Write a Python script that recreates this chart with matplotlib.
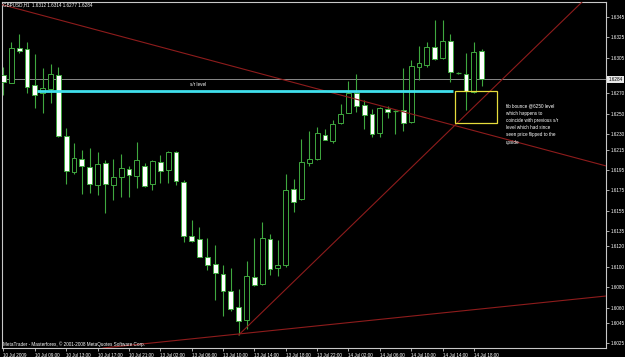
import matplotlib
matplotlib.use("Agg")
import matplotlib.pyplot as plt
from matplotlib.patches import Rectangle
import matplotlib.transforms as mtransforms

plt.rcParams['font.family'] = ['Liberation Sans', 'DejaVu Sans']

# ---------------- data (GBPUSD H1) ----------------
opens = [1.6288, 1.6280, 1.6315, 1.6314, 1.6278, 1.6270, 1.6274, 1.6288, 1.6228, 1.6193,
         1.6206, 1.6198, 1.6180, 1.6202, 1.6180, 1.6188, 1.6196, 1.6189, 1.6199, 1.6181,
         1.6203, 1.6195, 1.6213, 1.6183, 1.6130, 1.6127, 1.6110, 1.6103, 1.6093, 1.6076,
         1.6061, 1.6048, 1.6090, 1.6083, 1.6127, 1.6099, 1.6102, 1.6176, 1.6166, 1.6202,
         1.6206, 1.6229, 1.6223, 1.6241, 1.6251, 1.6270, 1.6259, 1.6250, 1.6231, 1.6255,
         1.6253, 1.6254, 1.6242, 1.6296, 1.6298, 1.6316, 1.6305, 1.6321, 1.6290, 1.6289,
         1.6271, 1.6312]
highs = [1.6296, 1.6320, 1.6328, 1.6320, 1.6309, 1.6295, 1.6299, 1.6296, 1.6236, 1.6221,
         1.6215, 1.6216, 1.6213, 1.6205, 1.6206, 1.6211, 1.6199, 1.6222, 1.6202, 1.6205,
         1.6210, 1.6214, 1.6214, 1.6185, 1.6146, 1.6139, 1.6128, 1.6121, 1.6102, 1.6099,
         1.6078, 1.6106, 1.6128, 1.6144, 1.6132, 1.6126, 1.6191, 1.6186, 1.6225, 1.6233,
         1.6237, 1.6235, 1.6244, 1.6260, 1.6282, 1.6289, 1.6264, 1.6255, 1.6257, 1.6258,
         1.6254, 1.6295, 1.6303, 1.6317, 1.6320, 1.6342, 1.6342, 1.6328, 1.6291, 1.6310,
         1.6320, 1.6314]
lows = [1.6268, 1.6280, 1.6310, 1.6270, 1.6256, 1.6251, 1.6261, 1.6227, 1.6181, 1.6191,
        1.6171, 1.6172, 1.6170, 1.6153, 1.6165, 1.6168, 1.6168, 1.6177, 1.6178, 1.6175,
        1.6182, 1.6182, 1.6180, 1.6124, 1.6124, 1.6110, 1.6097, 1.6067, 1.6052, 1.6057,
        1.6033, 1.6039, 1.6081, 1.6082, 1.6092, 1.6091, 1.6100, 1.6154, 1.6165, 1.6199,
        1.6205, 1.6224, 1.6221, 1.6240, 1.6251, 1.6252, 1.6235, 1.6227, 1.6227, 1.6246,
        1.6230, 1.6233, 1.6241, 1.6283, 1.6296, 1.6303, 1.6304, 1.6281, 1.6289, 1.6254,
        1.6270, 1.6277]
closes = [1.6281, 1.6315, 1.6312, 1.6276, 1.6268, 1.6275, 1.6289, 1.6228, 1.6194, 1.6207,
          1.6199, 1.6181, 1.6201, 1.6181, 1.6188, 1.6197, 1.6190, 1.6205, 1.6179, 1.6204,
          1.6194, 1.6213, 1.6184, 1.6130, 1.6125, 1.6110, 1.6102, 1.6094, 1.6076, 1.6059,
          1.6047, 1.6091, 1.6082, 1.6128, 1.6098, 1.6102, 1.6175, 1.6164, 1.6203, 1.6206,
          1.6231, 1.6224, 1.6240, 1.6250, 1.6270, 1.6258, 1.6249, 1.6230, 1.6256, 1.6252,
          1.6253, 1.6241, 1.6297, 1.6300, 1.6316, 1.6304, 1.6321, 1.6291, 1.6290, 1.6272,
          1.6311, 1.6284]

date_labels = ["10 Jul 2009", "10 Jul 09:00", "10 Jul 13:00", "10 Jul 17:00", "10 Jul 21:00",
               "13 Jul 02:00", "13 Jul 06:00", "13 Jul 10:00", "13 Jul 14:00", "13 Jul 18:00",
               "13 Jul 22:00", "14 Jul 02:00", "14 Jul 06:00", "14 Jul 10:00", "14 Jul 14:00",
               "14 Jul 18:00"]
date_label_bars = list(range(0, 61, 4))
price_ticks = [1.6345, 1.6325, 1.6305, 1.6270, 1.6250, 1.6230, 1.6215, 1.6195, 1.6175,
               1.6155, 1.6135, 1.6120, 1.6100, 1.6080, 1.6060, 1.6045, 1.6025]
current_price = 1.6284

# analyst drawings (bar index, price)
downtrend = [(0.45, 1.63558), (76.85, 1.61989)]
uptrend = [(30.0, 1.60331), (73.79, 1.63597)]
lower_trend = [(0.0, 1.60102), (76.85, 1.60713)]
sr_level = 1.6272
sr_span = [4.27, 57.3]
box_bars = [57.59, 62.95]
box_prices = [1.62410, 1.62725]

title = "GBPUSD,H1  1.6312 1.6314 1.6277 1.6284"
note = ("fib bounce @6250 level\nwhich happens to\ncoincide with previous s/r\n"
        "level which had since\nseen price flipped to the\nupside")
copyright_txt = "MetaTrader - Masterforex, \u00a9 2001-2008 MetaQuotes Software Corp."

# ---------------- styling ----------------
W, H = 625, 357
GREEN = '#3fa83f'
RED = '#8e1c1c'
CYAN = '#40e0ec'
YELLOW = '#e6dc3c'
AXC = '#c8c8c8'
FS = 3.3

fig = plt.figure(figsize=(W / 100, H / 100), dpi=100, facecolor='black')
def fx(px): return px / W
def fy(py): return 1 - py / H
ax = fig.add_axes([fx(2), fy(348), fx(606) - fx(2), fy(2) - fy(348)])
ax.set_facecolor('black')
ax.set_xlim(-0.19, 76.85)
ax.set_ylim(1.60203, 1.63597)

for s in ['left', 'right', 'bottom', 'top']:
    ax.spines[s].set_color(AXC)
    ax.spines[s].set_linewidth(0.8)

bw = 0.62
for i, (o, h, l, c) in enumerate(zip(opens, highs, lows, closes)):
    ax.vlines(i, l, h, color=GREEN, lw=0.8, zorder=2)
    if abs(c - o) < 1e-9:
        ax.hlines(o, i - bw / 2, i + bw / 2, color=GREEN, lw=0.9, zorder=3)
    else:
        face = 'white' if c < o else 'black'
        ax.add_patch(Rectangle((i - bw / 2, min(o, c)), bw, abs(c - o),
                               facecolor=face, edgecolor=GREEN, lw=0.7, zorder=3))

# current price line
ax.axhline(current_price, color='#8a8a8a', lw=0.7, zorder=1)

# trend lines
for line in (downtrend, lower_trend):
    ax.axline(line[0], line[1], color=RED, lw=0.8, zorder=4)
# uptrend as a ray starting at the low
(x0, y0), (x1, y1) = uptrend
slope = (y1 - y0) / (x1 - x0)
ax.plot([x0, 80], [y0, y0 + slope * (80 - x0)], color=RED, lw=0.8, zorder=4)

# s/r level
ax.hlines(sr_level, sr_span[0], sr_span[1], color=CYAN, lw=2.0, zorder=5)
ax.text(23.8, 1.62783, "s/r level", color='white', fontsize=FS, va='center', ha='left', zorder=6)

# yellow box
ax.add_patch(Rectangle((box_bars[0], box_prices[0]), box_bars[1] - box_bars[0],
                       box_prices[1] - box_prices[0], facecolor='none',
                       edgecolor=YELLOW, lw=0.9, zorder=5))
ax.text(64.1, 1.62600, note, color='white', fontsize=FS, va='top', ha='left',
        linespacing=1.55, zorder=6)

# axes ticks
ax.yaxis.tick_right()
ax.set_yticks(price_ticks)
ax.set_yticklabels([f"{v:.4f}" for v in price_ticks])
ax.set_xticks(date_label_bars)
ax.set_xticklabels(date_labels)
ax.tick_params(axis='both', colors=AXC, labelcolor='white', labelsize=FS,
               length=2.5, width=0.6, pad=1.2, direction='out')
for t in ax.get_xticklabels():
    t.set_ha('left')

# current price tag
trans = mtransforms.blended_transform_factory(ax.transAxes, ax.transData)
ax.text(1.004, current_price, f"{current_price:.4f}", transform=trans, color='black',
        fontsize=FS, va='center', ha='left', clip_on=False, zorder=10,
        bbox=dict(boxstyle='square,pad=0.25', facecolor='#e8e8e8', edgecolor='none'))

fig.text(fx(3), fy(5), title, color='white', fontsize=FS, va='center', ha='left')
fig.text(fx(3), fy(344), copyright_txt, color='white', fontsize=FS, va='center', ha='left')

fig.savefig('out.png', dpi=100, facecolor='black')
